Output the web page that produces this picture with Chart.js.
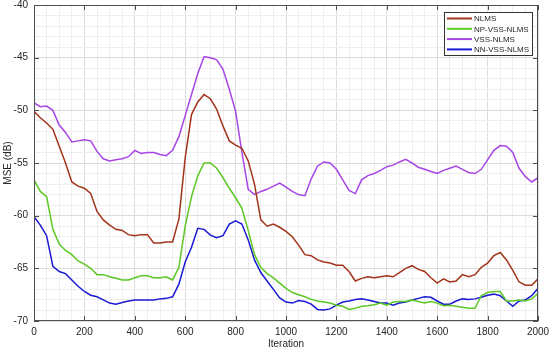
<!DOCTYPE html>
<html>
<head>
<meta charset="utf-8">
<script src="https://cdn.jsdelivr.net/npm/chart.js@4.4.1/dist/chart.umd.min.js"></script>
<style>
  html, body { margin: 0; padding: 0; background: #fff; }
  #contenedor { width: 550px; height: 351px; position: relative; }
</style>
</head>
<body>
<div id="contenedor"><canvas id="grafico"></canvas></div>
<script>
// iteraciones muestreadas cada 25
const iteraciones = [0, 25, 50, 75, 100, 125, 150, 175, 200, 225, 250, 275, 300, 325, 350, 375, 400, 425, 450, 475,
  500, 525, 550, 575, 600, 625, 650, 675, 700, 725, 750, 775, 800, 825, 850, 875, 900, 925, 950, 975,
  1000, 1025, 1050, 1075, 1100, 1125, 1150, 1175, 1200, 1225, 1250, 1275, 1300, 1325, 1350, 1375, 1400, 1425, 1450, 1475,
  1500, 1525, 1550, 1575, 1600, 1625, 1650, 1675, 1700, 1725, 1750, 1775, 1800, 1825, 1850, 1875, 1900, 1925, 1950, 1975, 2000];

const nlms = [-50.1, -50.7, -51.2, -51.8, -53.4, -55.0, -56.8, -57.2, -57.4, -57.9, -59.6, -60.4, -60.9, -61.3, -61.4, -61.8, -61.9, -61.8, -61.8, -62.6,
  -62.6, -62.5, -62.5, -60.3, -54.5, -50.4, -49.2, -48.5, -48.9, -49.9, -51.5, -52.9, -53.3, -53.6, -54.8, -57.0, -60.4, -61.0, -60.8, -61.1,
  -61.5, -62.0, -62.8, -63.7, -63.8, -64.2, -64.4, -64.5, -64.7, -64.7, -65.3, -66.2, -65.95, -65.8, -65.9, -65.8, -65.7, -65.8, -65.4, -65.0,
  -64.75, -65.1, -65.3, -65.9, -66.4, -66.0, -66.3, -66.2, -65.6, -65.8, -65.6, -64.9, -64.5, -63.8, -63.5, -64.2, -65.2, -66.3, -66.6, -66.6, -66.0];

const npVssNlms = [-56.6, -57.7, -58.2, -61.3, -62.7, -63.3, -63.7, -64.3, -64.6, -65.0, -65.6, -65.6, -65.8, -65.95, -66.1, -66.1, -65.9, -65.7, -65.7, -65.9,
  -65.9, -65.8, -66.1, -64.9, -61.0, -58.2, -56.2, -55.0, -55.0, -55.5, -56.4, -57.4, -58.3, -59.3, -61.4, -63.7, -64.9, -65.5, -65.9, -66.4,
  -66.9, -67.3, -67.5, -67.7, -67.95, -68.1, -68.2, -68.3, -68.5, -68.6, -68.9, -68.8, -68.6, -68.55, -68.45, -68.3, -68.5, -68.2, -68.15, -68.15,
  -68.0, -68.15, -68.3, -68.15, -68.3, -68.55, -68.5, -68.6, -68.7, -68.8, -68.8, -67.6, -67.3, -67.2, -67.2, -68.1, -68.1, -68.0, -68.1, -67.9, -67.4];

const vssNlms = [-49.3, -49.65, -49.6, -50.0, -51.4, -52.1, -53.0, -52.9, -52.8, -52.9, -53.9, -54.6, -54.8, -54.7, -54.6, -54.4, -53.8, -54.1, -54.0, -54.0,
  -54.2, -54.3, -53.8, -52.5, -50.5, -48.5, -46.5, -44.9, -45.0, -45.2, -46.1, -48.0, -50.1, -54.0, -57.5, -58.0, -57.7, -57.5, -57.2, -56.9,
  -57.3, -57.7, -58.0, -58.1, -56.5, -55.3, -54.9, -55.0, -55.6, -56.6, -57.6, -57.9, -56.6, -56.2, -56.0, -55.7, -55.35, -55.2, -54.9, -54.65,
  -55.0, -55.4, -55.6, -55.8, -56.0, -55.7, -55.5, -55.3, -55.6, -55.9, -56.0, -55.6, -54.7, -53.8, -53.35, -53.4, -54.0, -55.5, -56.3, -56.8, -56.4];

const nnVssNlms = [-60.1, -60.9, -61.9, -64.8, -65.3, -65.5, -66.1, -66.7, -67.2, -67.55, -67.7, -68.0, -68.3, -68.4, -68.25, -68.1, -68.0, -68.0, -68.0, -68.0,
  -67.9, -67.85, -67.7, -66.5, -64.4, -63.0, -61.2, -61.3, -61.85, -62.1, -61.9, -60.8, -60.5, -60.8, -62.3, -64.2, -65.4, -66.2, -67.0, -67.8,
  -68.2, -68.3, -68.05, -68.15, -68.4, -68.9, -68.95, -68.85, -68.5, -68.2, -68.1, -67.95, -67.9, -68.0, -68.15, -68.3, -68.3, -68.5, -68.3, -68.2,
  -68.0, -67.85, -67.7, -67.75, -68.1, -68.4, -68.4, -68.1, -67.9, -67.95, -67.9, -67.75, -67.55, -67.45, -67.6, -68.1, -68.6, -68.1, -68.0, -67.6, -66.9];

const nombresSeries = ["NLMS", "NP-VSS-NLMS", "VSS-NLMS", "NN-VSS-NLMS"];
const coloresSeries = ["#a2341a", "#5cc823", "#a745e6", "#1a1ad2"];

const ticksX = [0, 200, 400, 600, 800, 1000, 1200, 1400, 1600, 1800, 2000];
const ticksY = [-70, -65, -60, -55, -50, -45, -40];

const fuente = "'Liberation Sans', Arial, sans-serif";
const colorTexto = "#262626";

function armarPuntos(valores) {
  return iteraciones.map((it, i) => ({ x: it, y: valores[i] }));
}

// caja del eje, ticks hacia adentro y leyenda dentro del area
const cajaYLeyenda = {
  id: "cajaYLeyenda",
  afterDraw(chart) {
    const ctx = chart.ctx;
    const area = chart.chartArea;
    const sx = chart.scales.x;
    const sy = chart.scales.y;

    ctx.save();
    ctx.strokeStyle = "#4d4d4d";
    ctx.lineWidth = 1;
    ctx.strokeRect(area.left + 0.5, area.top + 0.5, area.right - area.left - 1, area.bottom - area.top - 1);

    ctx.beginPath();
    ticksX.forEach(v => {
      const px = Math.round(sx.getPixelForValue(v)) + 0.5;
      ctx.moveTo(px, area.bottom);
      ctx.lineTo(px, area.bottom - 5);
      ctx.moveTo(px, area.top);
      ctx.lineTo(px, area.top + 5);
    });
    ticksY.forEach(v => {
      const py = Math.round(sy.getPixelForValue(v)) + 0.5;
      ctx.moveTo(area.left, py);
      ctx.lineTo(area.left + 5, py);
      ctx.moveTo(area.right, py);
      ctx.lineTo(area.right - 5, py);
    });
    ctx.stroke();

    // leyenda
    const ancho = 88;
    const alto = 43;
    const x0 = area.right - 6 - ancho;
    const y0 = area.top + 7;
    ctx.fillStyle = "#fff";
    ctx.fillRect(x0, y0, ancho, alto);
    ctx.strokeStyle = "#333";
    ctx.strokeRect(x0 + 0.5, y0 + 0.5, ancho, alto);

    ctx.font = `8px ${fuente}`;
    ctx.textBaseline = "middle";
    chart.data.datasets.forEach((ds, i) => {
      const yy = y0 + 6.5 + i * 10.3;
      ctx.strokeStyle = ds.borderColor;
      ctx.lineWidth = 2;
      ctx.beginPath();
      ctx.moveTo(x0 + 3, yy);
      ctx.lineTo(x0 + 28, yy);
      ctx.stroke();
      ctx.fillStyle = colorTexto;
      ctx.fillText(ds.label, x0 + 30, yy + 0.5);
    });
    ctx.restore();
  }
};

const seriesValores = [nlms, npVssNlms, vssNlms, nnVssNlms];

const graficoCanvas = document.getElementById("grafico");
const graficoChart = new Chart(graficoCanvas, {
  type: "line",
  data: {
    datasets: seriesValores.map((valores, i) => ({
      label: nombresSeries[i],
      data: armarPuntos(valores),
      borderColor: coloresSeries[i],
      backgroundColor: coloresSeries[i],
      borderWidth: 1.5,
      pointRadius: 0,
      tension: 0,
      fill: false
    }))
  },
  options: {
    responsive: true,
    maintainAspectRatio: false,
    animation: false,
    layout: { padding: { top: 5, right: 12, left: 0, bottom: 0 } },
    plugins: {
      legend: { display: false },
      tooltip: { enabled: false }
    },
    scales: {
      x: {
        type: "linear",
        min: 0,
        max: 2000,
        afterFit: (escala) => {
          escala.height = 30;
          escala.paddingLeft = 0;
          escala.paddingRight = 0;
        },
        afterBuildTicks: (escala) => {
          const t = [];
          for (let v = 0; v <= 2000; v += 50) t.push({ value: v });
          escala.ticks = t;
        },
        ticks: {
          autoSkip: false,
          maxRotation: 0,
          padding: 5,
          color: colorTexto,
          font: { family: fuente, size: 10 },
          callback: (v) => (v % 200 === 0 ? String(v) : "")
        },
        grid: {
          drawTicks: false,
          color: (c) => (c.tick && c.tick.value % 200 === 0 ? "#dcdcdc" : "#eeeeee"),
          lineWidth: 1
        },
        border: { display: false },
        title: {
          display: true,
          text: "Iteration",
          color: colorTexto,
          font: { family: fuente, size: 10 },
          padding: { top: 0, bottom: 1 }
        }
      },
      y: {
        type: "linear",
        min: -70,
        max: -40,
        afterFit: (escala) => {
          escala.width = 34;
          escala.paddingTop = 0;
          escala.paddingBottom = 0;
        },
        afterBuildTicks: (escala) => {
          const t = [];
          for (let v = -70; v <= -40; v += 1) t.push({ value: v });
          escala.ticks = t;
        },
        ticks: {
          autoSkip: false,
          padding: 6,
          color: colorTexto,
          font: { family: fuente, size: 10 },
          callback: (v) => (v % 5 === 0 ? String(v) : "")
        },
        grid: {
          drawTicks: false,
          color: (c) => (c.tick && c.tick.value % 5 === 0 ? "#dcdcdc" : "#eeeeee"),
          lineWidth: 1
        },
        border: { display: false },
        title: {
          display: true,
          text: "MSE (dB)",
          color: colorTexto,
          font: { family: fuente, size: 10 },
          padding: { top: 2, bottom: 0 }
        }
      }
    }
  },
  plugins: [cajaYLeyenda]
});
</script>
</body>
</html>
